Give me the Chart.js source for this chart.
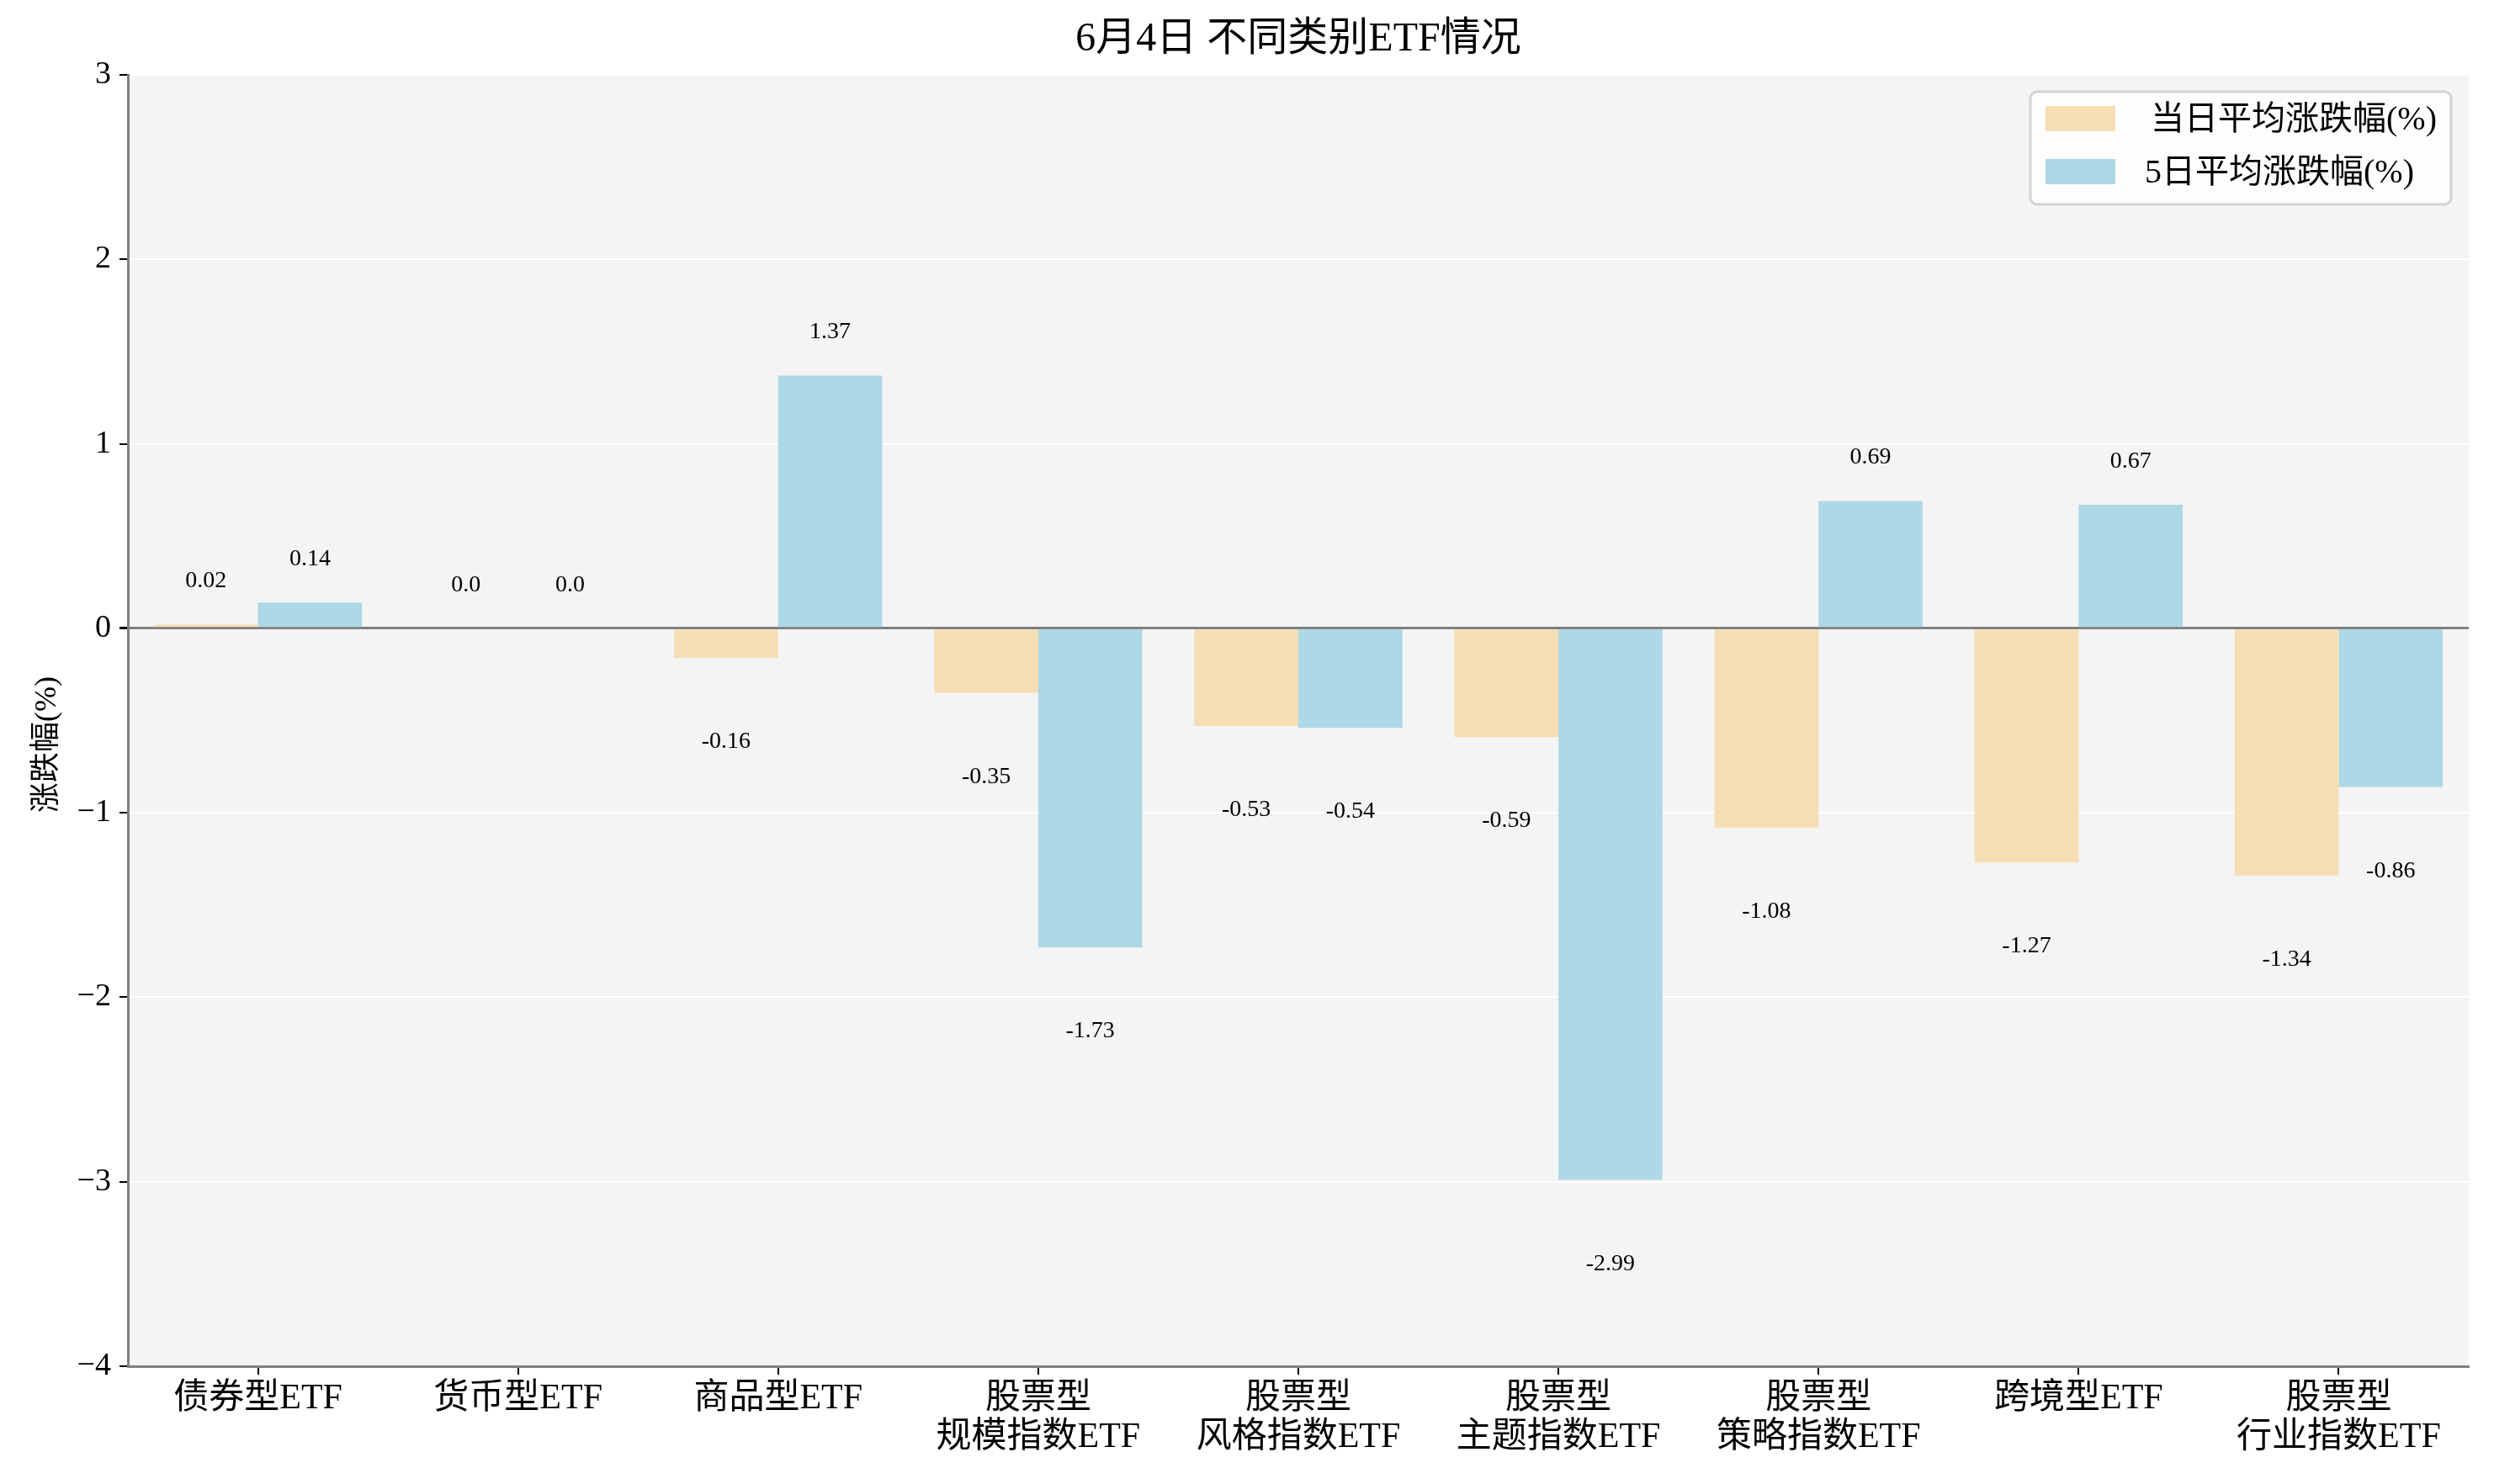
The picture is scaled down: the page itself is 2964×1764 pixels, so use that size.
<!DOCTYPE html>
<html>
<head>
<meta charset="utf-8">
<script src="https://cdn.jsdelivr.net/npm/chart.js@4"></script>
<style>
  html, body { margin: 0; padding: 0; background: #fff; }
  canvas { display: block; }
</style>
</head>
<body>
<canvas id="etfChart" width="2964" height="1764"></canvas>
<script>
// categories and series
const categories = [
  '债券型ETF', '货币型ETF', '商品型ETF',
  ['股票型', '规模指数ETF'], ['股票型', '风格指数ETF'], ['股票型', '主题指数ETF'],
  ['股票型', '策略指数ETF'], '跨境型ETF', ['股票型', '行业指数ETF']
];
const dailyChange = [0.02, 0.0, -0.16, -0.35, -0.53, -0.59, -1.08, -1.27, -1.34];
const fiveDayChange = [0.14, 0.0, 1.37, -1.73, -0.54, -2.99, 0.69, 0.67, -0.86];
const seriesNames = ['当日平均涨跌幅(%)', '5日平均涨跌幅(%)'];
const yTicks = [-4, -3, -2, -1, 0, 1, 2, 3];

const FONT = '"Liberation Serif", "Noto Sans CJK SC", serif';
const colors = ['#F5DEB3', '#ADD8E6'];

// plot background
const bgPlugin = {
  id: 'bg',
  beforeDraw(chart) {
    const a = chart.chartArea, ctx = chart.ctx;
    ctx.save();
    ctx.fillStyle = '#F4F4F4';
    ctx.fillRect(a.left, a.top, a.right - a.left, a.bottom - a.top);
    ctx.restore();
  }
};

// value labels, title, y title, legend box
const extras = {
  id: 'extras',
  afterDatasetsDraw(chart) {
    const ctx = chart.ctx, y = chart.scales.y;
    ctx.save();
    ctx.font = '28px ' + FONT;
    ctx.fillStyle = '#000';
    ctx.textAlign = 'center';
    ctx.textBaseline = 'middle';
    chart.data.datasets.forEach((ds, i) => {
      chart.getDatasetMeta(i).data.forEach((bar, j) => {
        const v = ds.data[j];
        const txt = v === 0 ? '0.0' : String(v);
        const py = y.getPixelForValue(v >= 0 ? v + 0.235 : v - 0.455);
        ctx.fillText(txt, bar.x, py);
      });
    });
    ctx.restore();
  },
  afterDraw(chart) {
    const ctx = chart.ctx, a = chart.chartArea;
    ctx.save();
    // title
    ctx.font = '48px ' + FONT;
    ctx.fillStyle = '#000';
    ctx.textAlign = 'center';
    ctx.textBaseline = 'middle';
    ctx.fillText('6月4日 不同类别ETF情况', (a.left + a.right) / 2, 47);
    // y axis title
    ctx.save();
    ctx.translate(57, 885);
    ctx.rotate(-Math.PI / 2);
    ctx.font = '36px ' + FONT;
    ctx.fillText('涨跌幅(%)', 0, 0);
    ctx.restore();
    // legend
    const lx = 2413, ly = 109, lw = 500, lh = 134;
    ctx.beginPath();
    ctx.roundRect(lx, ly, lw, lh, 8);
    ctx.fillStyle = 'rgba(255,255,255,0.8)';
    ctx.fill();
    ctx.lineWidth = 3;
    ctx.strokeStyle = '#D3D3D3';
    ctx.stroke();
    ctx.font = '40px ' + FONT;
    ctx.textAlign = 'left';
    const rows = [141, 204];
    seriesNames.forEach((name, i) => {
      ctx.fillStyle = colors[i];
      ctx.fillRect(2431, rows[i] - 15, 83, 30);
      ctx.fillStyle = '#000';
      ctx.fillText(name, i === 0 ? 2556 : 2549, rows[i] + 2);
    });
    ctx.restore();
  }
};

const config = {
  type: 'bar',
  data: {
    labels: categories,
    datasets: [
      { label: seriesNames[0], data: dailyChange, backgroundColor: colors[0] },
      { label: seriesNames[1], data: fiveDayChange, backgroundColor: colors[1] }
    ]
  },
  options: {
    responsive: false,
    devicePixelRatio: 1,
    animation: false,
    categoryPercentage: 0.8,
    barPercentage: 1.0,
    layout: { padding: { top: 89, right: 30, left: 0, bottom: 0 } },
    plugins: {
      legend: { display: false },
      title: { display: false },
      tooltip: { enabled: false }
    },
    scales: {
      x: {
        afterFit(scale) { scale.height = 140; },
        grid: {
          offset: false,
          drawOnChartArea: false,
          drawTicks: true,
          tickLength: 10,
          tickColor: '#000',
          lineWidth: 2
        },
        border: { color: '#808080', width: 3 },
        ticks: {
          color: '#000',
          font: { family: FONT, size: 42, lineHeight: 1.1 },
          padding: 6,
          maxRotation: 0,
          autoSkip: false
        }
      },
      y: {
        min: -4,
        max: 3,
        afterFit(scale) { scale.width = 152; },
        afterBuildTicks(scale) { scale.ticks = yTicks.map(v => ({ value: v })); },
        grid: {
          color: ctx => ctx.tick && ctx.tick.value === 0 ? '#808080' : '#FFFFFF',
          lineWidth: ctx => ctx.tick && ctx.tick.value === 0 ? 3 : 2,
          tickColor: '#000',
          tickLength: 10,
          drawTicks: true
        },
        border: { color: '#808080', width: 3 },
        ticks: {
          color: '#000',
          font: { family: FONT, size: 38 },
          padding: 10,
          callback: v => (v < 0 ? '\u2212' + Math.abs(v) : String(v))
        }
      }
    }
  },
  plugins: [bgPlugin, extras]
};

const etfChart = new Chart(document.getElementById('etfChart'), config);
</script>
</body>
</html>
